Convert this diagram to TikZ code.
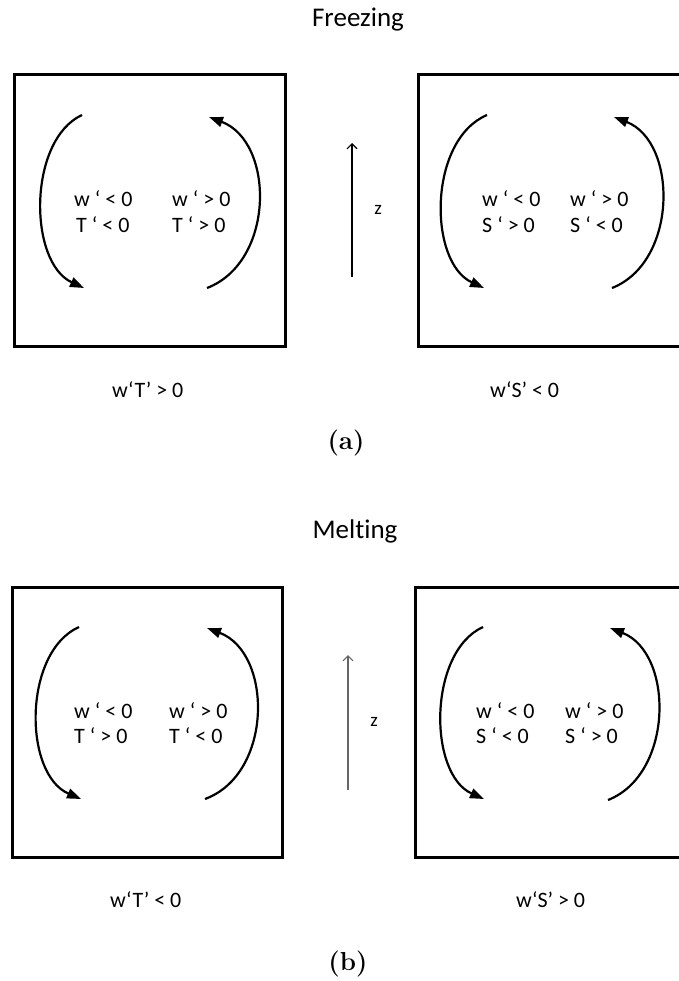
\documentclass[tikz,border=0pt]{standalone}
\usepackage{fontspec}
\setmainfont{Carlito}[Ligatures=NoCommon]
\newfontfamily\lmfont{Latin Modern Roman}
\usetikzlibrary{arrows.meta}
\begin{document}
\begin{tikzpicture}[x=1pt,y=-1pt,
  panel/.style={line width=3pt},
  loop/.style={line width=2.2pt,-{Triangle[length=14pt,width=10pt]}},
  zaxis/.style={line width=1.1pt,-{Straight Barb[length=5pt,width=10pt]}},
  val/.style={anchor=base west,font=\fontsize{22}{26}\selectfont,inner sep=0pt},
  lbl/.style={anchor=base west,font=\fontsize{22}{26}\selectfont,inner sep=0pt},
  ttl/.style={anchor=base,font=\fontsize{27}{31}\selectfont,inner sep=0pt},
  subcap/.style={anchor=base,font=\lmfont\bfseries\fontsize{26}{30}\selectfont,inner sep=0pt},
  zlbl/.style={font=\fontsize{19}{22}\selectfont,inner sep=0pt}]
\useasboundingbox (0,0) rectangle (678,981);

% ---------------- (a) Freezing ----------------
\node[ttl] (tA) at (358,27) {Freezing};
\draw[panel] (14,75) rectangle (285,346);
\draw[panel] (418,75) rectangle (700,346);

\coordinate (a1s) at (82,115);  \coordinate (a1e) at (84,288);
\coordinate (a2s) at (207,288); \coordinate (a2e) at (209,117);
\draw[loop] (a1s) .. controls (28,140) and (28,262) .. (a1e);
\draw[loop] (a2s) .. controls (275,262) and (275,142) .. (a2e);

\coordinate (a3s) at (487,115); \coordinate (a3e) at (484,288);
\coordinate (a4s) at (612,288); \coordinate (a4e) at (614,117);
\draw[loop] (a3s) .. controls (428,140) and (428,262) .. (a3e);
\draw[loop] (a4s) .. controls (678,262) and (678,142) .. (a4e);

\node[val] (aw1) at (74,207) {w ‘ < 0};
\node[val] (aT1) at (76,233) {T ‘ < 0};
\node[val] (aw2) at (172,207) {w ‘ > 0};
\node[val] (aT2) at (172,233) {T ‘ > 0};
\node[val] (aw3) at (482,207) {w ‘ < 0};
\node[val] (aS3) at (482,233) {S ‘ > 0};
\node[val] (aw4) at (570,207) {w ‘ > 0};
\node[val] (aS4) at (570,233) {S ‘ < 0};

\coordinate (zA0) at (352,277); \coordinate (zA1) at (352,143);
\draw[zaxis] (zA0) -- (zA1);
\node[zlbl] (zA) at (378,210) {z};

\node[lbl] (fA1) at (112,397) {w‘T’ > 0};
\node[lbl] (fA2) at (490,397) {w‘S’ < 0};
\node[subcap] (capA) at (346,449) {(a)};

% ---------------- (b) Melting ----------------
\node[ttl] (tB) at (355,538) {Melting};
\draw[panel] (12,587) rectangle (282,857);
\draw[panel] (415,587) rectangle (700,857);

\coordinate (b1s) at (79,627);  \coordinate (b1e) at (81,799);
\coordinate (b2s) at (205,799); \coordinate (b2e) at (207,628);
\draw[loop] (b1s) .. controls (23,652) and (23,774) .. (b1e);
\draw[loop] (b2s) .. controls (273,774) and (273,653) .. (b2e);

\coordinate (b3s) at (483,627); \coordinate (b3e) at (484,799);
\coordinate (b4s) at (608,800); \coordinate (b4e) at (610,628);
\draw[loop] (b3s) .. controls (428,652) and (428,774) .. (b3e);
\draw[loop] (b4s) .. controls (674,774) and (674,653) .. (b4e);

\node[val] (bw1) at (74,718) {w ‘ < 0};
\node[val] (bT1) at (74,743) {T ‘ > 0};
\node[val] (bw2) at (169,718) {w ‘ > 0};
\node[val] (bT2) at (169,743) {T ‘ < 0};
\node[val] (bw3) at (476,718) {w ‘ < 0};
\node[val] (bS3) at (476,743) {S ‘ < 0};
\node[val] (bw4) at (565,718) {w ‘ > 0};
\node[val] (bS4) at (565,743) {S ‘ > 0};

\coordinate (zB0) at (348,790); \coordinate (zB1) at (348,655);
\draw[zaxis,draw=black!60] (zB0) -- (zB1);
\node[zlbl] (zB) at (374,722) {z};

\node[lbl] (fB1) at (110,907) {w‘T’ < 0};
\node[lbl] (fB2) at (516,907) {w‘S’ > 0};
\node[subcap] (capB) at (348,970) {(b)};
\end{tikzpicture}
\end{document}
